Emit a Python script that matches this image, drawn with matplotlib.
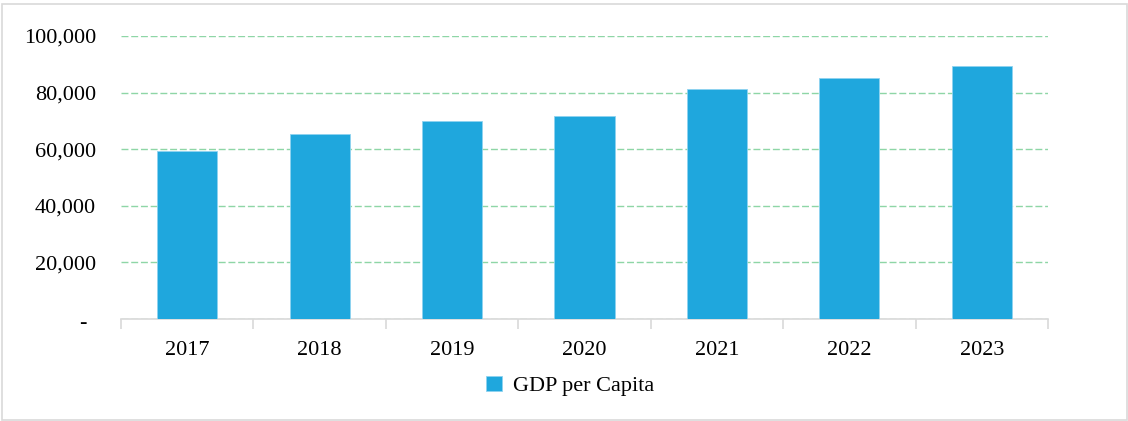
import matplotlib.pyplot as plt
import matplotlib.transforms as mtransforms
from matplotlib.patches import Rectangle
from matplotlib.ticker import FuncFormatter

years = ["2017", "2018", "2019", "2020", "2021", "2022", "2023"]
gdp_per_capita = [59500, 65500, 70000, 71700, 81300, 85300, 89300]
series_name = "GDP per Capita"

BAR_COLOR = "#1FA7DD"
GRID_COLOR = "#8ED6A6"
AXIS_COLOR = "#D9D9D9"

plt.rcParams["font.family"] = ["Liberation Serif", "DejaVu Serif"]

W, H = 1128, 421
fig = plt.figure(figsize=(W / 100, H / 100), dpi=100)
ax = fig.add_axes([121 / W, (H - 319) / H, (1048 - 121) / W, (319 - 36) / H])

x = list(range(len(years)))
ax.bar(x, gdp_per_capita, width=0.455, color=BAR_COLOR,
       edgecolor="#8FD3F0", linewidth=0.6, zorder=3, label=series_name)

ax.set_xlim(-0.5, len(years) - 0.5)
ax.set_ylim(0, 100000)
ax.set_yticks(range(0, 100001, 20000))
ax.yaxis.set_major_formatter(FuncFormatter(lambda v, p: "-" if v == 0 else f"{int(v):,}"))
ax.set_xticks(x)
ax.set_xticklabels(years)

# minor ticks mark category boundaries on the x axis
ax.set_xticks([i - 0.5 for i in range(len(years) + 1)], minor=True)
ax.tick_params(axis="x", which="major", length=0, pad=15.5, labelsize=16, colors="#000000")
ax.tick_params(axis="x", which="minor", length=7, width=1.2, color=AXIS_COLOR)
ax.tick_params(axis="y", length=0, pad=18, labelsize=16)

# shift the zero label left like an accounting format
zero_lbl = ax.get_yticklabels()[0]
zero_lbl.set_transform(zero_lbl.get_transform() +
                       mtransforms.ScaledTranslation(-10 / 100, -2 / 100, fig.dpi_scale_trans))

for s in ["top", "right", "left"]:
    ax.spines[s].set_visible(False)
ax.spines["bottom"].set_color(AXIS_COLOR)
ax.spines["bottom"].set_linewidth(1.2)

ax.yaxis.grid(True, color=GRID_COLOR, linestyle=(0, (5, 2)), linewidth=1.0, zorder=0)
ax.set_axisbelow(True)

leg = ax.legend(loc="center", bbox_to_anchor=(570 / W, (H - 386) / H),
                bbox_transform=fig.transFigure, frameon=False, fontsize=16,
                handlelength=0.7, handleheight=0.7, handletextpad=0.5)

# outer chart border
fig.patches.append(Rectangle((2 / W, 1 / H), (1127 - 2) / W, (417 - 1) / H,
                             transform=fig.transFigure, fill=False,
                             edgecolor=AXIS_COLOR, linewidth=1.2))

fig.savefig("out.png", dpi=100)
